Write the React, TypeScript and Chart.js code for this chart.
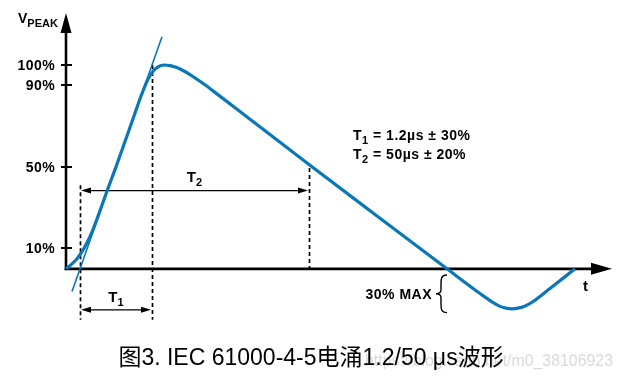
import React, { useEffect, useRef } from "react";
import { Chart, registerables } from "chart.js";

Chart.register(...registerables);

// Waveform (time in arbitrary drawing units, voltage in % of peak)
const curveT = [0, 3, 7, 11, 16, 21, 27, 34, 42, 50, 59, 68, 76, 82, 87, 92, 98, 104, 110, 117, 124, 131, 140, 147, 184, 243, 310, 381, 414, 426, 434, 440, 446, 452, 458, 466, 484, 509];
const curveV = [0, 1.2, 2.9, 5.0, 8.4, 12.8, 19.3, 28.5, 39.5, 50, 62.5, 75, 86, 93.0, 96.9, 99.1, 100, 99.7, 98.9, 97.3, 95.3, 93.0, 89.9, 87.3, 73.4, 51.2, 26.3, 0, -12.1, -16.2, -18.4, -19.3, -19.6, -19.3, -18.5, -16.4, -9.6, 0];

// Front tangent line (through 30% / 90% points)
const tangentT = [6, 96];
const tangentV = [-11.1, 113.9];

// Axis ticks
const yTickValues = [10, 50, 90, 100];
const yTickLabels = ["10%", "50%", "90%", "100%"];

// Scale ranges
const xRange = [0, 544];
const yRange = [-30, 125.5];
const xAxisEnd = 546;

// Dashed guide lines
const guideT = [14, 86, 243];
const guideTop = [41, 100, 49.5];
const guideBottom = [-25, -25, 0];

// Dimension arrows
const t1Span = [14, 86];
const t1Level = -20.1;
const t2Span = [14, 243];
const t2Level = 38.4;

// Undershoot brace
const braceT = 381;
const braceTop = -3;
const braceBottom = -21.5;

// Annotation texts
const specAnchorT = 287;
const specLevels = [63.2, 54.0];
const specLines = [
  ["T", "1", " = 1.2\u00b5s \u00b1 30%"],
  ["T", "2", " = 50\u00b5s \u00b1 20%"],
];
const undershootLabel = "30% MAX";
const yAxisTitle = ["V", "PEAK"];
const xAxisTitle = "t";
const caption = "图3. IEC 61000-4-5电涌1.2/50 μs波形";
const watermark = "https://blog.csdn.net/m0_38106923";

const BLUE = "#0a78b7";
const FONT = '"Liberation Sans", Arial, Helvetica, sans-serif';

function subText(
  ctx: CanvasRenderingContext2D,
  x: number,
  y: number,
  main: string,
  sub: string,
  rest: string,
  size: number,
  subSize: number,
  subDrop: number,
  align: "left" | "center"
) {
  ctx.font = `bold ${size}px ${FONT}`;
  const w1 = ctx.measureText(main).width;
  const w3 = rest ? ctx.measureText(rest).width : 0;
  ctx.font = `bold ${subSize}px ${FONT}`;
  const w2 = ctx.measureText(sub).width;
  const total = w1 + w2 + w3;
  let sx = align === "center" ? x - total / 2 : x;
  ctx.textAlign = "left";
  ctx.textBaseline = "alphabetic";
  ctx.font = `bold ${size}px ${FONT}`;
  ctx.fillText(main, sx, y);
  sx += w1;
  ctx.font = `bold ${subSize}px ${FONT}`;
  ctx.fillText(sub, sx, y + subDrop);
  sx += w2;
  ctx.font = `bold ${size}px ${FONT}`;
  if (rest) ctx.fillText(rest, sx, y);
}

function arrowHead(ctx: CanvasRenderingContext2D, tx: number, ty: number, dx: number, dy: number, len: number, half: number) {
  const bx = tx - dx * len;
  const by = ty - dy * len;
  ctx.beginPath();
  ctx.moveTo(tx, ty);
  ctx.lineTo(bx - dy * half, by + dx * half);
  ctx.lineTo(bx + dy * half, by - dx * half);
  ctx.closePath();
  ctx.fill();
}

const diagramPlugin = {
  id: "diagram",
  beforeDatasetsDraw(chart: any) {
    const ctx: CanvasRenderingContext2D = chart.ctx;
    const xs = chart.scales.x;
    const ys = chart.scales.y;
    const px = (v: number) => xs.getPixelForValue(v);
    const py = (v: number) => ys.getPixelForValue(v);
    const x0 = px(0);
    const y0 = py(0);
    ctx.save();
    ctx.fillStyle = "#000";
    ctx.strokeStyle = "#000";
    (ctx as any).letterSpacing = "0px";

    // dashed guides
    ctx.setLineDash([4, 3]);
    ctx.lineWidth = 1.7;
    guideT.forEach((t, i) => {
      ctx.beginPath();
      ctx.moveTo(Math.round(px(t)) + 0.5, py(guideTop[i]));
      ctx.lineTo(Math.round(px(t)) + 0.5, py(guideBottom[i]));
      ctx.stroke();
    });
    ctx.setLineDash([]);

    // dimension arrows
    ctx.lineWidth = 1.3;
    const dim = (span: number[], lvl: number) => {
      const a = px(span[0]) + 1;
      const b = px(span[1]) - 1;
      const y = py(lvl);
      ctx.beginPath();
      ctx.moveTo(a + 4, y);
      ctx.lineTo(b - 4, y);
      ctx.stroke();
      arrowHead(ctx, a, y, -1, 0, 10, 3);
      arrowHead(ctx, b, y, 1, 0, 10, 3);
    };
    dim(t1Span, t1Level);
    dim(t2Span, t2Level);
    subText(ctx, (px(t1Span[0]) + px(t1Span[1])) / 2, py(t1Level) - 8, "T", "1", "", 15, 11, 4, "center");
    subText(ctx, (px(t2Span[0]) + px(t2Span[1])) / 2, py(t2Level) - 8.5, "T", "2", "", 15, 11, 4, "center");

    // axes
    ctx.lineWidth = 2.6;
    const yTop = py(yRange[1]);
    ctx.beginPath();
    ctx.moveTo(x0, y0 + 1.3);
    ctx.lineTo(x0, yTop + 12);
    ctx.stroke();
    arrowHead(ctx, x0, yTop, 0, -1, 20, 5.5);
    const xEnd = px(xAxisEnd);
    ctx.beginPath();
    ctx.moveTo(x0 - 1.3, y0);
    ctx.lineTo(xEnd - 12, y0);
    ctx.stroke();
    arrowHead(ctx, xEnd, y0, 1, 0, 21, 6);

    // y ticks
    ctx.lineWidth = 2;
    (ctx as any).letterSpacing = "0.4px";
    ctx.font = `bold 14px ${FONT}`;
    ctx.textAlign = "right";
    ctx.textBaseline = "middle";
    yTickValues.forEach((v, i) => {
      const y = Math.round(py(v));
      ctx.beginPath();
      ctx.moveTo(x0 - 5, y);
      ctx.lineTo(x0 + 6, y);
      ctx.stroke();
      ctx.fillText(yTickLabels[i], x0 - 11, y + 1);
    });
    (ctx as any).letterSpacing = "0px";

    // axis titles
    subText(ctx, 18, 23, yAxisTitle[0], yAxisTitle[1], "", 14, 11, 4, "left");
    ctx.font = `bold 15px ${FONT}`;
    ctx.textAlign = "left";
    ctx.textBaseline = "alphabetic";
    ctx.fillText(xAxisTitle, xEnd - 29, y0 + 22);

    // spec text
    (ctx as any).letterSpacing = "0.5px";
    specLines.forEach((ln, i) => {
      subText(ctx, px(specAnchorT), py(specLevels[i]), ln[0], ln[1], ln[2], 14, 11, 4, "left");
    });

    // brace
    const bx = px(braceT);
    const bt = py(braceTop);
    const bb = py(braceBottom);
    const bm = (bt + bb) / 2;
    ctx.lineWidth = 1.4;
    ctx.beginPath();
    ctx.moveTo(bx, bt);
    ctx.bezierCurveTo(bx - 6, bt, bx - 6, bt + 4, bx - 6, bt + 9);
    ctx.lineTo(bx - 6, bm - 4);
    ctx.bezierCurveTo(bx - 6, bm - 1, bx - 8, bm, bx - 11, bm);
    ctx.bezierCurveTo(bx - 8, bm, bx - 6, bm + 1, bx - 6, bm + 4);
    ctx.lineTo(bx - 6, bb - 9);
    ctx.bezierCurveTo(bx - 6, bb - 4, bx - 6, bb, bx, bb);
    ctx.stroke();
    ctx.font = `bold 14px ${FONT}`;
    ctx.textAlign = "right";
    ctx.textBaseline = "alphabetic";
    ctx.fillText(undershootLabel, bx - 15, bm + 5);
    (ctx as any).letterSpacing = "0px";

    // watermark and caption
    ctx.font = `17px ${FONT}`;
    ctx.textAlign = "left";
    ctx.fillStyle = "rgba(170,170,170,0.45)";
    ctx.fillText(watermark, 365, 366, 248);
    ctx.fillStyle = "#000";
    ctx.font = `23px ${FONT}, "Noto Sans CJK SC"`;
    ctx.textAlign = "center";
    ctx.fillText(caption, 311, 365, 388);
    ctx.restore();
  },
};

export default function App() {
  const ref = useRef<HTMLCanvasElement>(null);
  useEffect(() => {
    document.body.style.margin = "0";
    const curve = curveT.map((t, i) => ({ x: t, y: curveV[i] }));
    const tangent = tangentT.map((t, i) => ({ x: t, y: tangentV[i] }));
    const chart = new Chart(ref.current!, {
      type: "line",
      data: {
        datasets: [
          {
            data: curve,
            borderColor: BLUE,
            borderWidth: 3.2,
            pointRadius: 0,
            cubicInterpolationMode: "monotone",
            fill: false,
            clip: false,
          } as any,
          {
            data: tangent,
            borderColor: BLUE,
            borderWidth: 1.6,
            pointRadius: 0,
            fill: false,
            clip: false,
          } as any,
        ],
      },
      options: {
        animation: false,
        responsive: true,
        maintainAspectRatio: false,
        devicePixelRatio: 1,
        layout: { padding: { left: 66, right: 13, top: 13, bottom: 49 } },
        scales: {
          x: { type: "linear", min: xRange[0], max: xRange[1], display: false },
          y: { type: "linear", min: yRange[0], max: yRange[1], display: false },
        },
        plugins: { legend: { display: false }, tooltip: { enabled: false }, title: { display: false } },
        events: [],
      },
      plugins: [diagramPlugin],
    });
    return () => chart.destroy();
  }, []);
  return (
    <div style={{ position: "relative", width: 623, height: 379 }}>
      <canvas ref={ref} />
    </div>
  );
}
